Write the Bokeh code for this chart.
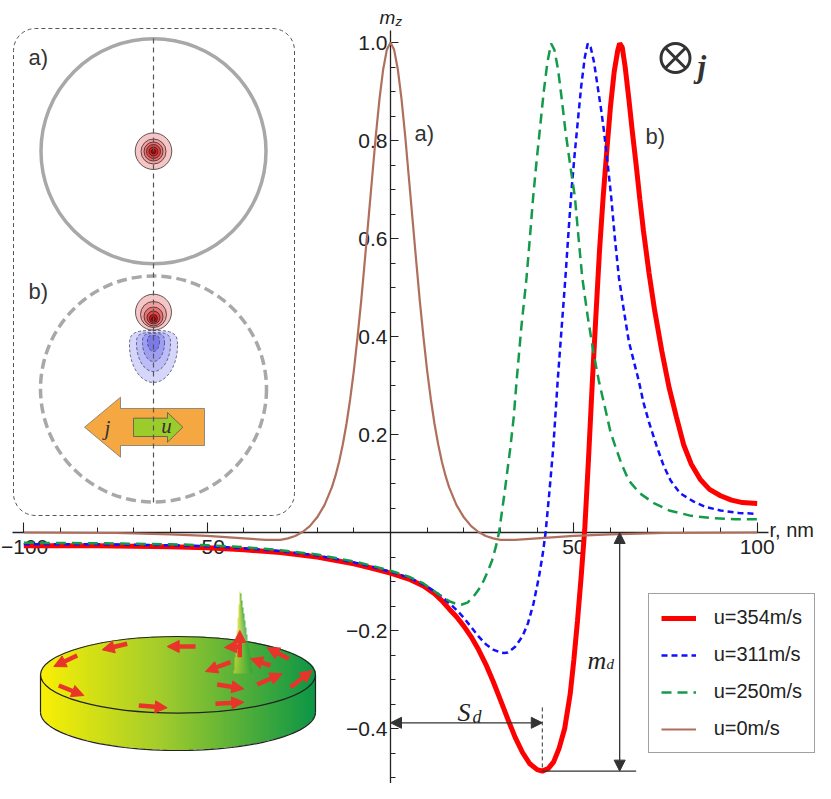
import numpy as np
from bokeh.plotting import figure
from bokeh.models import (LinearAxis, FixedTicker, CustomJSTickFormatter, Legend,
                          LegendItem, Arrow, NormalHead, Range1d)
from bokeh.core.properties import value
from bokeh.embed import file_html
from bokeh.resources import INLINE

# ---------------- data ----------------
series_labels = ["u=354m/s", "u=311m/s", "u=250m/s", "u=0m/s"]

r354 = [-100, -80, -60, -50, -40, -30, -20, -10, -5, 0, 5, 9, 12, 14, 16, 18, 20, 22, 24, 26, 28,
        30, 32, 34, 36, 38, 40, 41.4, 43, 44.5, 46, 47.5, 49, 50, 51, 52, 53, 54, 55, 56, 57, 58,
        59, 60, 61, 62, 62.5, 63.2, 64, 65, 66, 67, 68, 69, 70.5, 72, 74, 76, 78, 80, 82, 84.5,
        87, 90, 93, 96, 100]
m354 = [-0.027, -0.027, -0.029, -0.031, -0.035, -0.041, -0.050, -0.064, -0.073, -0.083, -0.095,
        -0.109, -0.125, -0.139, -0.156, -0.172, -0.191, -0.213, -0.239, -0.269, -0.304, -0.342,
        -0.381, -0.418, -0.449, -0.472, -0.484, -0.487, -0.482, -0.468, -0.440, -0.400, -0.330,
        -0.260, -0.180, -0.090, 0.010, 0.150, 0.300, 0.440, 0.575, 0.685, 0.780, 0.870, 0.940,
        0.985, 0.998, 0.990, 0.950, 0.885, 0.815, 0.750, 0.680, 0.615, 0.530, 0.455, 0.370,
        0.295, 0.235, 0.178, 0.140, 0.108, 0.088, 0.075, 0.066, 0.061, 0.059]

r311 = [-100, -80, -60, -50, -40, -30, -20, -10, -5, 0, 5, 9, 12, 14, 16, 18, 20, 22, 24, 26, 28,
        30, 31, 32, 34, 36, 37.5, 39, 40.5, 41.5, 42.3, 43.3, 44.4, 45.6, 46.6, 47.7, 48.7, 49.5,
        50.2, 50.9, 52, 53, 53.8, 54.6, 55.5, 56.5, 57.5, 58.2, 59.2, 60.2, 61.2, 62.3, 63.5, 65,
        66.5, 67.7, 69, 70.5, 72.7, 74.5, 76.4, 79, 82.7, 86, 90, 95, 100]
m311 = [-0.024, -0.024, -0.026, -0.028, -0.032, -0.038, -0.047, -0.061, -0.070, -0.080, -0.092,
        -0.106, -0.120, -0.131, -0.144, -0.158, -0.174, -0.193, -0.212, -0.228, -0.239, -0.245,
        -0.246, -0.245, -0.233, -0.212, -0.185, -0.145, -0.090, -0.045, 0.000, 0.080, 0.174,
        0.310, 0.410, 0.520, 0.630, 0.710, 0.770, 0.825, 0.910, 0.970, 0.998, 0.990, 0.960,
        0.910, 0.860, 0.820, 0.755, 0.684, 0.600, 0.520, 0.460, 0.390, 0.345, 0.310, 0.265,
        0.225, 0.174, 0.136, 0.106, 0.080, 0.063, 0.052, 0.045, 0.040, 0.038]

r250 = [-100, -80, -60, -50, -40, -30, -20, -10, -5, 0, 5, 9, 12, 14, 16, 18, 19.5, 21, 22.5,
        24, 25.5, 26.5, 27.7, 28.7, 29.6, 31, 32.7, 33.6, 34.4, 35.7, 37.1, 38, 38.9, 39.8, 40.7,
        41.8, 42.8, 43.8, 44.7, 45.7, 46.7, 47.7, 49, 50.3, 51.3, 52.3, 53.8, 55.3, 56.8, 58.5,
        60, 61.4, 63, 65, 68, 71.8, 76, 82, 88.2, 94, 100]
m250 = [-0.021, -0.022, -0.024, -0.026, -0.030, -0.036, -0.045, -0.059, -0.068, -0.078, -0.090,
        -0.104, -0.120, -0.131, -0.140, -0.146, -0.147, -0.143, -0.132, -0.117, -0.097, -0.080,
        -0.057, -0.030, 0.000, 0.075, 0.174, 0.235, 0.310, 0.420, 0.520, 0.600, 0.684, 0.755,
        0.820, 0.900, 0.960, 0.998, 0.985, 0.945, 0.885, 0.820, 0.750, 0.684, 0.600, 0.520,
        0.440, 0.370, 0.310, 0.255, 0.205, 0.174, 0.140, 0.106, 0.080, 0.060, 0.045, 0.034,
        0.029, 0.027, 0.027]

r0 = [-100, -75, -60, -50, -40, -34, -30, -28, -26, -24, -22, -20, -18, -16, -15, -14, -13, -12,
      -11, -10, -9, -8, -7, -6, -5, -4, -3, -2, -1, 0, 1, 2, 3, 4, 5, 6, 7, 8, 9, 10, 11, 12,
      13, 14, 15, 16, 18, 20, 22, 24, 26, 28, 30, 34, 40, 50, 60, 75, 100]
m0 = [0.000, -0.001, -0.004, -0.007, -0.012, -0.015, -0.015, -0.012, -0.007, 0.001, 0.013,
      0.031, 0.056, 0.092, 0.116, 0.145, 0.180, 0.222, 0.272, 0.330, 0.398, 0.472, 0.555, 0.640,
      0.725, 0.810, 0.885, 0.945, 0.985, 1.000, 0.985, 0.945, 0.885, 0.810, 0.725, 0.640, 0.555,
      0.472, 0.398, 0.330, 0.272, 0.222, 0.180, 0.145, 0.116, 0.092, 0.056, 0.031, 0.013, 0.001,
      -0.007, -0.012, -0.015, -0.015, -0.012, -0.007, -0.004, -0.001, 0.000]

x_ticks = [-100, -50, 50, 100]
x_minor = [-100, -90, -80, -70, -60, -50, -40, -30, -20, -10, 10, 20, 30, 40, 50, 60, 70, 80, 90, 100]
y_ticks = [-0.4, -0.2, 0.2, 0.4, 0.6, 0.8, 1.0]
y_minor = [-0.5, -0.45, -0.4, -0.35, -0.3, -0.25, -0.2, -0.15, -0.1, -0.05, 0.05, 0.1, 0.15,
           0.2, 0.25, 0.3, 0.35, 0.4, 0.45, 0.5, 0.55, 0.6, 0.65, 0.7, 0.75, 0.8, 0.85, 0.9, 0.95, 1.0]

RED, BLUE, GREEN, BROWN = "#ff0000", "#1010ff", "#139a4a", "#b06f5c"
SANS, SERIF = "Liberation Sans", "Liberation Serif"
INK = "#222222"

# ---------------- geometry: picture pixel <-> data ----------------
W, H = 815, 783
X0, SX = 390.0, 3.6667     # pixel of r=0, px per nm
Y0, SY = 532.0, 490.0      # pixel of m=0, px per unit


def dx(px):
    return (px - X0) / SX


def dy(py):
    return (Y0 - py) / SY


p = figure(width=W, height=H, output_backend="svg", toolbar_location=None,
           x_range=Range1d(dx(0), dx(W)), y_range=Range1d(dy(H), dy(0)),
           x_axis_location=None, y_axis_location=None, min_border=0,
           outline_line_color=None, background_fill_color="white", border_fill_color="white")
p.grid.grid_line_color = None

# ---------------- axes through the origin ----------------
xfmt = CustomJSTickFormatter(code="if (tick < -99) return ''; return (tick < 0 ? '\u2212' : '') + Math.abs(tick).toFixed(0);")
yfmt = CustomJSTickFormatter(code="return (tick < 0 ? '\u2212' : '') + Math.abs(tick).toFixed(1);")
common = dict(major_tick_out=0, minor_tick_out=0, axis_line_color=INK, axis_line_width=1.3,
              major_tick_line_color=INK, minor_tick_line_color=INK, major_tick_line_width=1.1,
              minor_tick_line_width=1.0, major_label_text_font=SANS,
              major_label_text_font_size="21px", major_label_text_color=INK, level="underlay")
xaxis = LinearAxis(fixed_location=0, bounds=(dx(12), dx(768)),
                   ticker=FixedTicker(ticks=x_ticks, minor_ticks=x_minor), formatter=xfmt,
                   major_tick_in=10, minor_tick_in=5, major_label_standoff=7, **common)
yaxis = LinearAxis(fixed_location=0, bounds=(dy(783), dy(30)),
                   ticker=FixedTicker(ticks=y_ticks, minor_ticks=y_minor), formatter=yfmt,
                   major_tick_in=8, minor_tick_in=5, major_label_standoff=3, **common)
p.add_layout(xaxis, "below")
p.add_layout(yaxis, "left")


def txt(px, py, s, size, font=SANS, style="normal", align="left", baseline="middle", color=INK):
    p.text(x=[dx(px)], y=[dy(py)], text=[s], text_font=value(font), text_font_style=style,
           text_font_size=size, text_align=align, text_baseline=baseline, text_color=color)


txt(0.5, 539, "\u2212100", "21px", baseline="top")
txt(769, 529, "r, nm", "20px")
txt(379, 17, "m", "19px", style="italic", baseline="alphabetic")
txt(395, 21, "z", "13px", style="italic", baseline="alphabetic")

# ---------------- curves ----------------
l354 = p.line(r354, m354, line_color=RED, line_width=5)
l311 = p.line(r311, m311, line_color=BLUE, line_width=2.5, line_dash="6 4")
l250 = p.line(r250, m250, line_color=GREEN, line_width=2.5, line_dash="10 6")
l0 = p.line(r0, m0, line_color=BROWN, line_width=2.2)

legend = Legend(items=[LegendItem(label=series_labels[0], renderers=[l354]),
                       LegendItem(label=series_labels[1], renderers=[l311]),
                       LegendItem(label=series_labels[2], renderers=[l250]),
                       LegendItem(label=series_labels[3], renderers=[l0])],
                location=(647.7, H - 753.3), border_line_color="#444444", border_line_width=1.5,
                background_fill_color="white", background_fill_alpha=1.0, padding=12, spacing=14,
                glyph_width=35, glyph_height=20, label_height=20, label_standoff=18, margin=0,
                label_text_font=SANS, label_text_font_size="20px", label_text_color=INK)
p.add_layout(legend)

txt(414, 133, "a)", "22px", color="#333333")
txt(645, 136, "b)", "22px", color="#333333")

# current symbol
p.scatter(x=[dx(675)], y=[dy(57.5)], marker="circle_x", size=29, line_width=3,
          line_color="#333333", fill_color=None)
txt(697, 66, "j", "31px", font=SERIF, style="bold italic", baseline="alphabetic", color="#333333")

# ---------------- S_d and m_d construction ----------------
imin = int(np.argmin(m354))
r_min, m_min = r354[imin], m354[imin]
r_peak = r354[int(np.argmax(m354))]
GR = "#333333"
p.segment(x0=[r_min], y0=[m_min + 0.13], x1=[r_min], y1=[m_min], line_color=GR,
          line_width=1, line_dash="4 3")
p.segment(x0=[r_min], y0=[m_min], x1=[r_peak + 4.5], y1=[m_min], line_color=GR, line_width=1.3)
p.add_layout(Arrow(start=NormalHead(size=11, fill_color=GR, line_color=GR),
                   end=NormalHead(size=11, fill_color=GR, line_color=GR),
                   x_start=0, y_start=dy(722.3), x_end=r_min, y_end=dy(722.3),
                   line_color=GR, line_width=1.3))
p.add_layout(Arrow(start=NormalHead(size=11, fill_color=GR, line_color=GR),
                   end=NormalHead(size=11, fill_color=GR, line_color=GR),
                   x_start=r_peak, y_start=0, x_end=r_peak, y_end=m_min,
                   line_color=GR, line_width=1.3))
txt(457, 712, "S", "26px", font=SERIF, style="italic", baseline="alphabetic")
txt(472, 716, "d", "18px", font=SERIF, style="italic", baseline="alphabetic")
txt(587, 660, "m", "26px", font=SERIF, style="italic", baseline="alphabetic")
txt(606, 663, "d", "15px", font=SERIF, style="italic", baseline="alphabetic")

# ---------------- inset a) / b) ----------------
def rounded_rect(x0, y0, x1, y1, rad, n=12):
    xs, ys = [], []
    for cx, cy, a0 in [(x1 - rad, y0 + rad, -90), (x1 - rad, y1 - rad, 0),
                       (x0 + rad, y1 - rad, 90), (x0 + rad, y0 + rad, 180)]:
        for a in np.linspace(a0, a0 + 90, n):
            xs.append(cx + rad * np.cos(np.radians(a)))
            ys.append(cy + rad * np.sin(np.radians(a)))
    xs.append(xs[0]); ys.append(ys[0])
    return [dx(v) for v in xs], [dy(v) for v in ys]


bx, by = rounded_rect(13, 28, 294, 515, 22)
p.line(bx, by, line_color="#555555", line_width=1, line_dash="4 3")

CX = 153
p.scatter(x=[dx(CX)], y=[dy(150.7)], marker="circle", size=225, fill_color=None,
          line_color="#a8a8a8", line_width=3.5)
p.scatter(x=[dx(CX)], y=[dy(388.5)], marker="circle", size=226, fill_color=None,
          line_color="#a8a8a8", line_width=3.5, line_dash="10 5")


def lobe(cx, cy, rx, ryt, ryb, n=80):
    xs, ys = [], []
    for ph in np.linspace(0, 2 * np.pi, n):
        ux, uy = np.cos(ph), np.sin(ph)
        if uy <= 0:
            xs.append(cx + rx * np.sign(ux) * abs(ux) ** 0.6)
            ys.append(cy - ryt * abs(uy) ** 0.6)
        else:
            xs.append(cx + rx * ux)
            ys.append(cy + ryb * uy)
    return [dx(v) for v in xs], [dy(v) for v in ys]


# blue (negative) lobe
for cy, rx, ryt, ryb, col in [(345, 24, 15, 37, "#d6d6fb"), (343, 17, 11, 28, "#bcbcf7"),
                              (342, 11, 9, 19, "#9e9ef1"), (341, 6, 6, 10, "#7a7ae8")]:
    lx, ly = lobe(CX, cy, rx, ryt, ryb)
    p.patch(lx, ly, fill_color=col, line_color="#333355", line_width=0.7, line_dash="3 2")

# red (positive) blobs
for cy, rr, col in [(150.7, 18.3, "#f6c6c6"), (151, 12.5, "#f0a0a0"), (151, 9.5, "#e87272"),
                    (151, 7, "#e04848"), (151, 4.5, "#d82020"), (151, 2.2, "#b00000"),
                    (311.7, 18, "#f6c6c6"), (314, 13, "#f0a0a0"), (316, 9.5, "#e87272"),
                    (317, 6.5, "#e04444"), (318, 4, "#d41414"), (318.5, 2, "#a00000")]:
    p.scatter(x=[dx(CX)], y=[dy(cy)], marker="circle", size=2 * rr, fill_color=col,
              line_color="#1a1a1a", line_width=0.7)

# big arrows j (orange) and u (green)
oj = [(84, 426.7), (120, 396.7), (120, 408), (204, 408), (204, 445), (120, 445), (120, 456.7)]
p.patch([dx(a) for a, b in oj], [dy(b) for a, b in oj], fill_color="#f5a742",
        line_color="#777777", line_width=0.8)
gu = [(133, 417.7), (167, 417.7), (167, 412), (182.3, 426.7), (167, 441.7), (167, 436), (133, 436)]
p.patch([dx(a) for a, b in gu], [dy(b) for a, b in gu], fill_color="#9ccb2c",
        line_color="#555555", line_width=0.8)

p.segment(x0=[dx(CX)], y0=[dy(38)], x1=[dx(CX)], y1=[dy(502)], line_color="#555555",
          line_width=1.2, line_dash="5 4")
txt(107, 427, "j", "21px", font=SERIF, style="italic", align="center", color="#333333")
txt(166, 425, "u", "21px", font=SERIF, style="italic", align="center", color="#333333")
txt(28, 57, "a)", "22px", color="#333333")
txt(28, 291, "b)", "22px", color="#333333")

# ---------------- 3D disk illustration ----------------
DX0, DX1, DY0, DY1 = 40.0, 315.0, 636.0, 750.0
ECX, ERX, ERY, TCY, BCY = 177.5, 137.5, 38.3, 674.3, 711.7
NX, NY = 550, 228
jj = (np.arange(NX) + 0.5) / NX * (DX1 - DX0) + DX0
ii = DY1 - (np.arange(NY) + 0.5) / NY * (DY1 - DY0)
PX, PY = np.meshgrid(jj, ii)
inside = ((((PX - ECX) / ERX) ** 2 + ((PY - TCY) / ERY) ** 2) <= 1) | \
         ((((PX - ECX) / ERX) ** 2 + ((PY - BCY) / ERY) ** 2) <= 1) | \
         ((PX >= DX0) & (PX <= DX1) & (PY >= TCY) & (PY <= BCY))
t = (PX - DX0) / (DX1 - DX0)
stops_t = [0.0, 0.45, 1.0]
stops_c = [(250, 240, 5), (160, 203, 45), (12, 150, 70)]
img = np.zeros((NY, NX), dtype=np.uint32)
view = img.view(dtype=np.uint8).reshape((NY, NX, 4))
for k in range(3):
    view[:, :, k] = np.interp(t, stops_t, [c[k] for c in stops_c]).astype(np.uint8)
view[:, :, 3] = np.where(inside, 255, 0).astype(np.uint8)
p.image_rgba(image=[img], x=dx(DX0), y=dy(DY1), dw=dx(DX1) - dx(DX0), dh=dy(DY0) - dy(DY1))

p.ellipse(x=[dx(ECX)], y=[dy(TCY)], width=[2 * ERX / SX], height=[2 * ERY / SY],
          fill_color=None, line_color="#222222", line_width=1.2)
aa = np.linspace(0, np.pi, 60)
p.line([dx(ECX + ERX * np.cos(a)) for a in aa], [dy(BCY + ERY * np.sin(a)) for a in aa],
       line_color="#222222", line_width=1.2)
p.segment(x0=[dx(DX0), dx(DX1)], y0=[dy(TCY), dy(TCY)], x1=[dx(DX0), dx(DX1)],
          y1=[dy(BCY), dy(BCY)], line_color="#222222", line_width=1.2)

# spike
SNX, SNY = 40, 170
sx0, sx1, sy0, sy1 = 232.0, 252.0, 588.0, 674.0
sj = (np.arange(SNX) + 0.5) / SNX * (sx1 - sx0) + sx0
si = sy1 - (np.arange(SNY) + 0.5) / SNY * (sy1 - sy0)
SPX, SPY = np.meshgrid(sj, si)
frac = np.clip((SPY - 588.0) / 85.0, 0, 1)
xl = 239.5 - 6.5 * frac
xr = 239.5 + 12.5 * frac
ins = (SPX >= xl) & (SPX <= xr) & (SPY <= 673)
u = np.clip((SPX - xl) / np.maximum(xr - xl, 0.1), 0, 1)
simg = np.zeros((SNY, SNX), dtype=np.uint32)
sv = simg.view(dtype=np.uint8).reshape((SNY, SNX, 4))
for k, (c0, c1) in enumerate([(230, 40), (225, 160), (50, 60)]):
    sv[:, :, k] = (c0 + (c1 - c0) * u).astype(np.uint8)
sv[:, :, 3] = np.where(ins, (255 - 110 * frac).astype(np.uint8), 0).astype(np.uint8)
p.image_rgba(image=[simg], x=dx(sx0), y=dy(sy1), dw=dx(sx1) - dx(sx0), dh=dy(sy0) - dy(sy1))

# magnetisation arrows on the disk
RED2 = "#e8342a"
disk_arrows = [((126.7, 643.3), (101.7, 649.3)), ((76.7, 655), (53.3, 666)),
               ((195, 646), (166.7, 646)), ((240, 646), (224, 647)),
               ((288.3, 658.3), (266.7, 647.3)), ((270, 665), (250, 658.3)),
               ((230, 661.7), (205, 671)), ((58.3, 685), (83.3, 695)),
               ((138.3, 705), (166.7, 707.3)), ((216.7, 684), (243.3, 688.3)),
               ((215, 703.3), (243.3, 701.7)), ((256.7, 684), (281.7, 673.3)),
               ((290, 686.7), (311.7, 670)), ((239.3, 656.7), (239.3, 630))]
for (ax0, ay0), (ax1, ay1) in disk_arrows:
    p.add_layout(Arrow(end=NormalHead(size=12, fill_color=RED2, line_color=RED2),
                       x_start=dx(ax0), y_start=dy(ay0), x_end=dx(ax1), y_end=dy(ay1),
                       line_color=RED2, line_width=4.5))

open("out.html", "w").write(file_html(p, INLINE))
